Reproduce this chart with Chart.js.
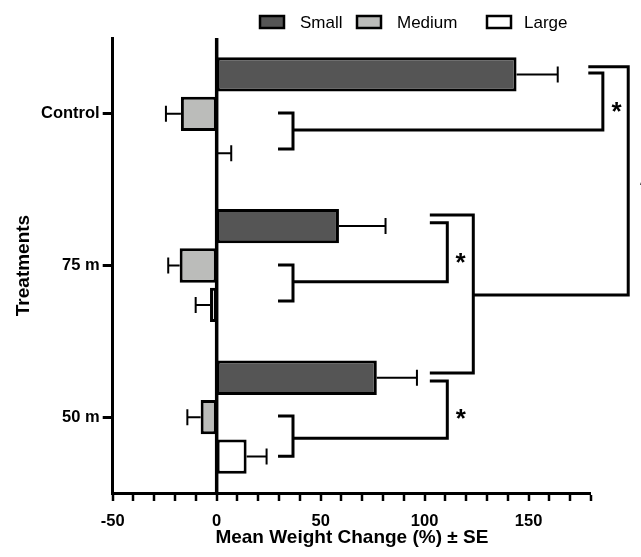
<!DOCTYPE html>
<html>
<head>
<meta charset="utf-8">
<script src="https://cdn.jsdelivr.net/npm/chart.js@4.4.0/dist/chart.umd.min.js"></script>
<style>
  html, body { margin: 0; padding: 0; background: #fff; }
  #wrap { width: 641px; height: 557px; position: relative; }
</style>
</head>
<body>
<div id="wrap"><canvas id="chart"></canvas></div>
<script>
// --- data ---
const treatments = ["Control", "75 m", "50 m"];
const sizeLabels = ["Small", "Medium", "Large"];
const smallMean  = [144.2, 58.8, 77.0];
const smallSE    = [19.8, 22.4, 19.3];
const mediumMean = [-17.2, -17.8, -7.7];
const mediumSE   = [7.2, 5.5, 6.4];
const largeMean  = [0.5, -3.2, 14.4];
const largeSE    = [6.5, 6.9, 9.6];
const xLabelTicks = [-50, 0, 50, 100, 150];

// significance brackets, in (value, category position) units
const brackets = [
  [[29.5, -0.005], [36.7, -0.005], [36.7, 0.232], [29.5, 0.232]],
  [[36.7, 0.107], [185.7, 0.107], [185.7, -0.269], [178.7, -0.269]],
  [[178.7, -0.31], [197.9, -0.31], [197.9, 1.194], [123.4, 1.194]],
  [[29.5, 0.997], [36.7, 0.997], [36.7, 1.234], [29.5, 1.234]],
  [[36.7, 1.107], [110.9, 1.107], [110.9, 0.718], [102.5, 0.718]],
  [[102.5, 0.667], [123.4, 0.667], [123.4, 1.709], [102.5, 1.709]],
  [[29.5, 1.993], [36.7, 1.993], [36.7, 2.257], [29.5, 2.257]],
  [[36.7, 2.139], [110.9, 2.139], [110.9, 1.761], [102.5, 1.761]],
];
const stars = [[192.3, -0.058], [117.3, 0.937], [117.4, 1.963], [206, 0.457]];

const FONT = "'Liberation Sans', Arial, Helvetica, sans-serif";
const fills = ["#555555", "#bbbcba", "#ffffff"];
const errors = [smallSE, mediumSE, largeSE];

/** Zero reference line, drawn under the bars so their borders sit on it. */
const zeroLinePlugin = {
  id: "zeroLine",
  beforeDatasetsDraw(chart) {
    const { ctx, chartArea } = chart;
    const x0 = chart.scales.x.getPixelForValue(0);
    ctx.save();
    ctx.strokeStyle = "#000";
    ctx.lineWidth = 3.5;
    ctx.beginPath();
    ctx.moveTo(x0, chartArea.top);
    ctx.lineTo(x0, chartArea.bottom);
    ctx.stroke();
    ctx.restore();
  },
};

/** Error bars drawn from the bar end outward, with a cap. */
const errorBarPlugin = {
  id: "errorBars",
  afterDatasetsDraw(chart) {
    const ctx = chart.ctx;
    const xs = chart.scales.x;
    ctx.save();
    ctx.strokeStyle = "#000";
    ctx.lineWidth = 2;
    chart.data.datasets.forEach((ds, di) => {
      const meta = chart.getDatasetMeta(di);
      meta.data.forEach((el, i) => {
        const v = ds.data[i];
        const se = errors[di][i];
        const end = xs.getPixelForValue(v + (v < 0 ? -se : se));
        ctx.beginPath();
        ctx.moveTo(el.x, el.y);
        ctx.lineTo(end, el.y);
        ctx.moveTo(end, el.y - 8);
        ctx.lineTo(end, el.y + 8);
        ctx.stroke();
      });
    });
    ctx.restore();
  },
};

/** Brackets, asterisks and the legend row. */
const annotatePlugin = {
  id: "annotate",
  afterDraw(chart) {
    const ctx = chart.ctx;
    const xs = chart.scales.x, ys = chart.scales.y;
    ctx.save();
    ctx.strokeStyle = "#000";
    ctx.lineWidth = 3;
    ctx.lineJoin = "miter";
    brackets.forEach(pts => {
      ctx.beginPath();
      pts.forEach(([v, c], k) => {
        const px = xs.getPixelForValue(v), py = ys.getPixelForValue(c);
        k ? ctx.lineTo(px, py) : ctx.moveTo(px, py);
      });
      ctx.stroke();
    });
    ctx.fillStyle = "#000";
    ctx.font = "bold 26px " + FONT;
    ctx.textAlign = "center";
    ctx.textBaseline = "alphabetic";
    stars.forEach(([v, c]) => {
      ctx.fillText("*", xs.getPixelForValue(v), ys.getPixelForValue(c) + 15);
    });

    // legend
    const items = [[260, 300], [357, 397], [487, 524]];
    ctx.font = "17px " + FONT;
    ctx.textAlign = "left";
    ctx.textBaseline = "middle";
    ctx.lineWidth = 2.5;
    sizeLabels.forEach((lab, i) => {
      const [bx, tx] = items[i];
      ctx.fillStyle = fills[i];
      ctx.fillRect(bx, 16, 24, 12);
      ctx.strokeRect(bx, 16, 24, 12);
      ctx.fillStyle = "#000";
      ctx.fillText(lab, tx, 23);
    });
    ctx.restore();
  },
};

const datasets = [smallMean, mediumMean, largeMean].map((vals, i) => ({
  label: sizeLabels[i],
  data: vals,
  backgroundColor: fills[i],
  borderColor: "#000",
  borderWidth: 3,
  borderSkipped: false,
  categoryPercentage: 0.78,
  barPercentage: 0.87,
}));

new Chart(document.getElementById("chart"), {
  type: "bar",
  data: { labels: treatments, datasets },
  plugins: [zeroLinePlugin, errorBarPlugin, annotatePlugin],
  options: {
    indexAxis: "y",
    responsive: true,
    maintainAspectRatio: false,
    animation: false,
    layout: { padding: { top: 38, right: 50, bottom: 0, left: 0 } },
    plugins: { legend: { display: false }, tooltip: { enabled: false } },
    scales: {
      x: {
        min: -50,
        max: 180,
        afterFit: s => { s.height = 64; },
        ticks: {
          stepSize: 10,
          autoSkip: false,
          maxRotation: 0,
          padding: 11,
          color: "#000",
          font: { family: FONT, size: 16.5, weight: "bold" },
          callback: v => (xLabelTicks.includes(v) ? String(v) : ""),
        },
        grid: {
          lineWidth: 0,
          tickColor: "#000",
          tickWidth: 2.5,
          tickLength: 8,
        },
        border: { color: "#000", width: 3 },
        title: {
          display: true,
          text: "Mean Weight Change (%) ± SE",
          color: "#000",
          font: { family: FONT, size: 19, weight: "bold" },
          padding: { top: 0, bottom: 8 },
        },
      },
      y: {
        afterFit: s => { s.width = 112.7; },
        ticks: {
          padding: 3,
          color: "#000",
          font: { family: FONT, size: 16.5, weight: "bold" },
        },
        grid: {
          offset: false,
          drawOnChartArea: false,
          tickColor: "#000",
          tickWidth: 3,
          tickLength: 10,
        },
        border: { color: "#000", width: 3 },
        title: {
          display: true,
          text: "Treatments",
          color: "#000",
          font: { family: FONT, size: 19, weight: "bold" },
          padding: { top: 12, bottom: 0 },
        },
      },
    },
  },
});
</script>
</body>
</html>
